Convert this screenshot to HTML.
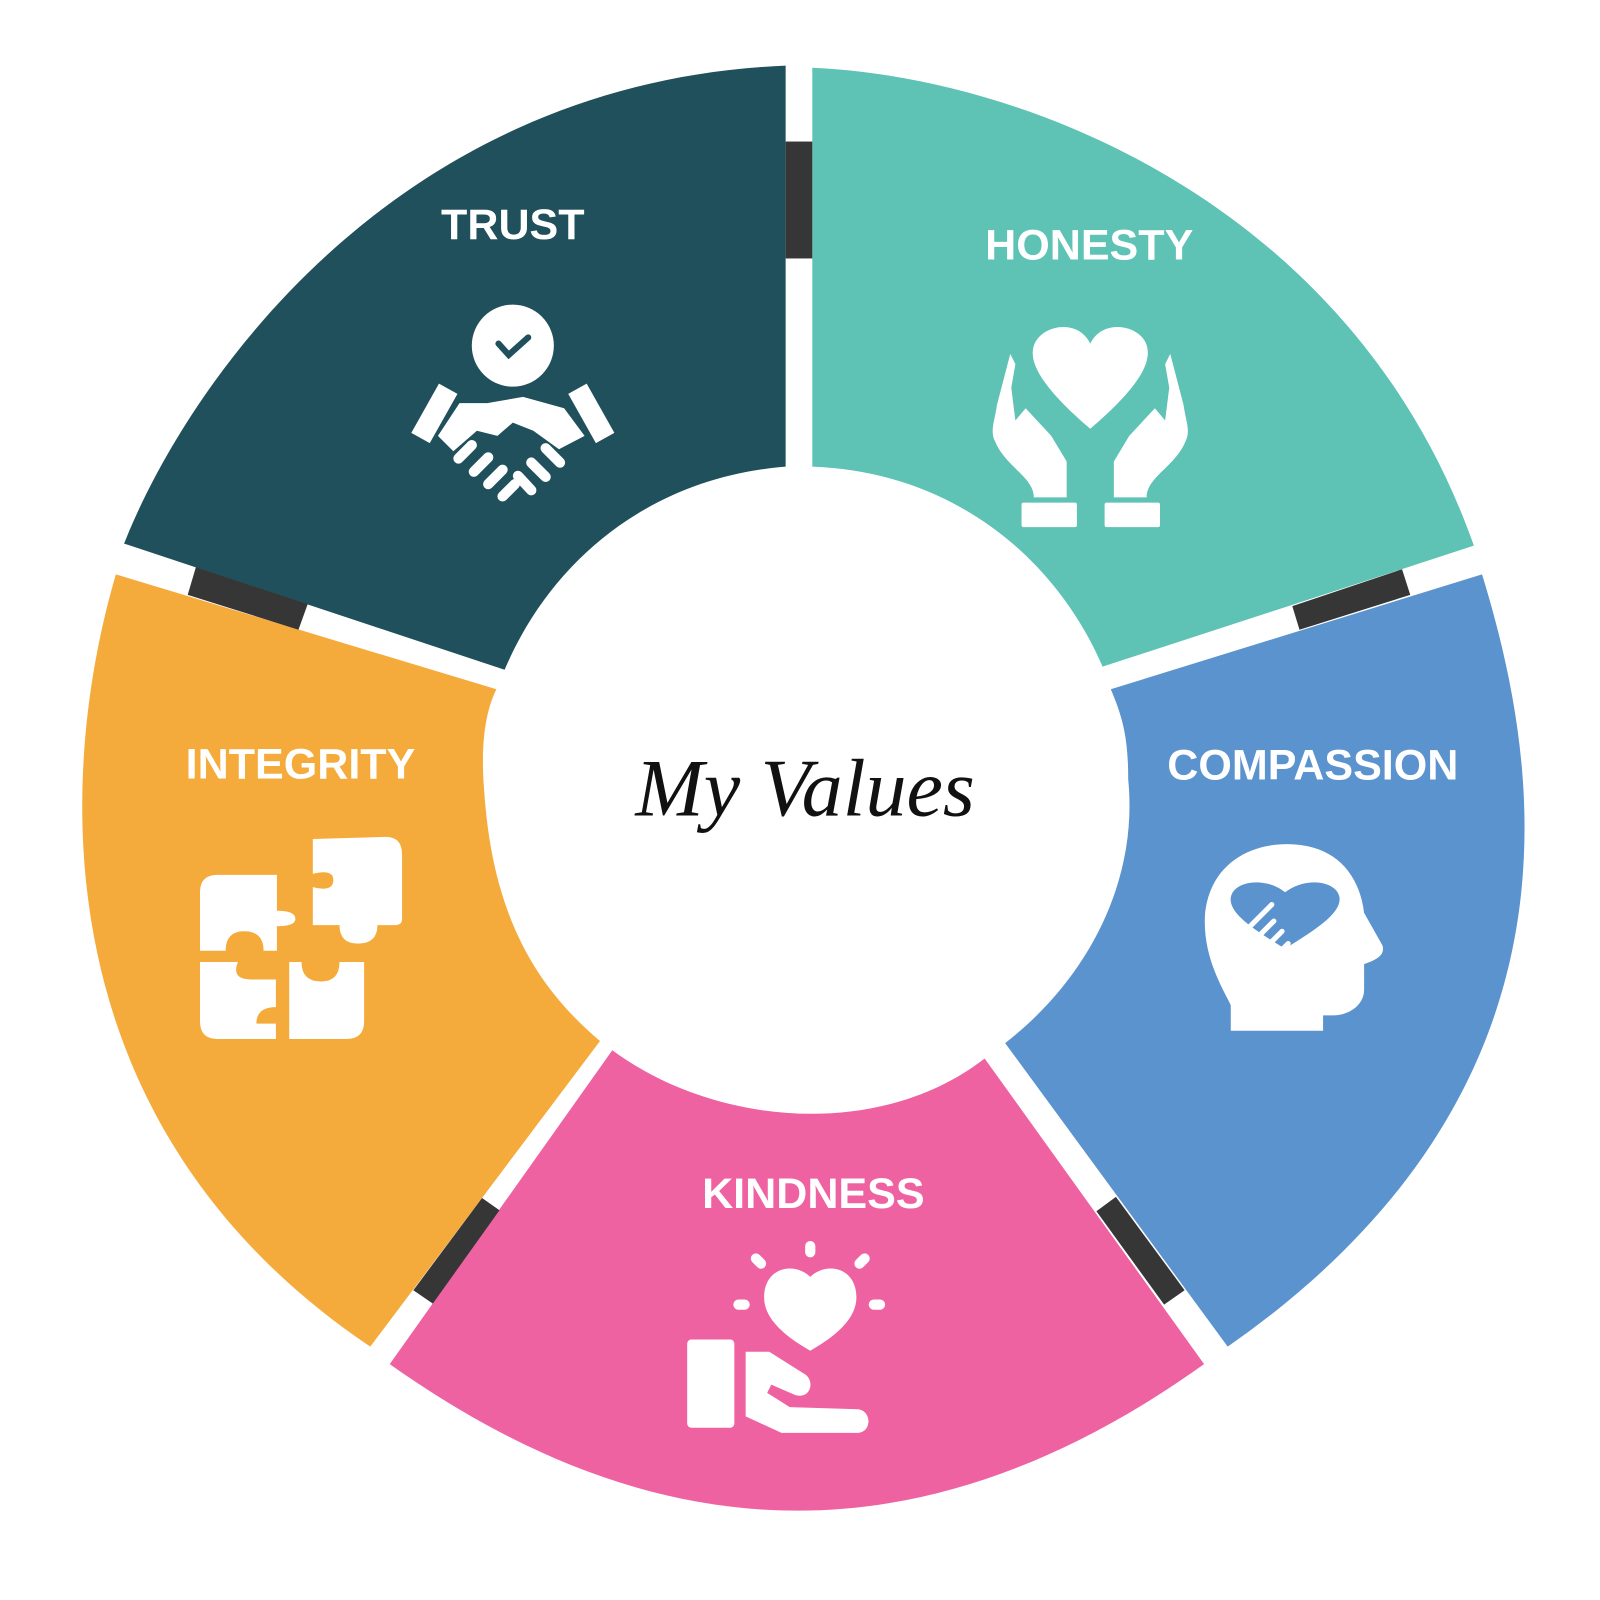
<!DOCTYPE html>
<html><head><meta charset="utf-8"><style>html,body{margin:0;padding:0;background:#fff}svg{display:block}</style></head>
<body>
<svg width="1600" height="1600" viewBox="0 0 1560 1560" xmlns="http://www.w3.org/2000/svg">
<rect width="1560" height="1560" fill="#fff"/>
<path d="M121,530 C180,380 380,80 766,64 L766,455 C640,465 540,540 492,653 Z" fill="#1f505c"/>
<path d="M792,66 C1000,75 1320,200 1437,532 L1075,650 C1030,545 930,460 792,455 Z" fill="#5ec2b5"/>
<path d="M1445,560 C1500,740 1560,1060 1197,1313 L980,1017 C1060,955 1110,860 1100,760 C1100,720 1095,700 1083,672 Z" fill="#5b93ce"/>
<path d="M1174,1330 C880,1540 620,1500 380,1330 L597,1024 C700,1100 860,1110 960,1032 Z" fill="#ee62a1"/>
<path d="M113,560 C60,740 30,1090 361,1313 L585,1015 C520,960 480,890 472,770 C468,720 475,690 484,672 Z" fill="#f4ab3b"/>
<g fill="#363636">
<rect x="766" y="138" width="26" height="114"/>
<polygon points="191,553 300,589 291,614 183,580"/>
<polygon points="1367,555 1375,580 1267,614 1260,591"/>
<polygon points="470,1168 487,1180 422,1271 403,1258"/>
<polygon points="1069,1181 1088,1167 1155,1258 1135,1272"/>
</g>
<g font-family="'Liberation Sans',sans-serif" font-weight="bold" font-size="42" fill="#fff" text-anchor="middle">
<text x="500" y="233">TRUST</text>
<text x="1062" y="253">HONESTY</text>
<text x="293" y="759">INTEGRITY</text>
<text x="1280" y="760">COMPASSION</text>
<text x="793" y="1178">KINDNESS</text>
</g>
<text x="785" y="795" font-family="'Liberation Serif',serif" font-style="italic" font-size="80" text-anchor="middle" fill="#111">My Values</text>
<g fill="#fff">
<circle cx="500" cy="337" r="40"/>
<path d="M486,335 L496,346 L515,329" stroke="#1f505c" stroke-width="6" fill="none" stroke-linecap="round"/>
<polygon points="428,374 446,384 419,432 401,422"/>
<polygon points="572,374 554,384 581,432 599,422"/>
<path d="M427,425 L448,393 L475,393 L510,387 L550,398 L570,425 L545,438 L520,420 L500,412 L485,425 L465,420 L442,440 Z"/>
<g stroke="#fff" stroke-width="10" stroke-linecap="round">
<line x1="447" y1="447" x2="460" y2="434"/><line x1="462" y1="460" x2="476" y2="446"/>
<line x1="476" y1="472" x2="490" y2="458"/><line x1="490" y1="484" x2="502" y2="472"/>
<line x1="532" y1="437" x2="546" y2="451"/><line x1="518" y1="451" x2="532" y2="465"/>
<line x1="505" y1="464" x2="518" y2="478"/>
</g>
</g>
<g fill="#fff">
<path d="M1063,418 C1030,390 1005,362 1007,342 C1009,318 1050,308 1063,335 C1076,308 1118,318 1119,342 C1121,362 1096,390 1063,418 Z"/>
<path d="M985,345 L990,355 L986,378 L990,410 L1000,398 L1025,425 L1040,450 L1040,485 L1008,485 C1008,465 980,455 970,430 C965,420 970,410 972,395 Z"/>
<path d="M1141,345 L1136,355 L1140,378 L1136,410 L1126,398 L1101,425 L1086,450 L1086,485 L1118,485 C1118,465 1146,455 1156,430 C1161,420 1156,410 1154,395 Z"/>
<rect x="996" y="490" width="54" height="24" rx="2"/>
<rect x="1077" y="490" width="54" height="24" rx="2"/>
</g>
<g fill="#fff">
<path d="M195,870 Q195,853 212,853 L270,853 L270,888 Q288,888 288,896 Q288,903 270,903 L270,927 L257,927 Q257,908 238,908 Q220,908 220,927 L195,927 Z"/>
<path d="M305,818 L376,816 Q392,816 392,833 L392,896 Q392,902 385,902 L368,902 Q368,920 349,920 Q331,920 331,902 L305,902 L305,865 Q325,870 325,858 Q325,847 305,852 Z"/>
<path d="M195,938 L232,938 Q225,955 245,955 L269,955 L269,982 Q250,982 250,998 L269,998 L269,1013 L212,1013 Q195,1013 195,996 Z"/>
<path d="M282,938 L294,938 Q294,957 313,957 Q331,957 331,938 L355,938 L355,996 Q355,1013 338,1013 L282,1013 Z"/>
</g>
<g>
<path d="M1200,1005 L1200,980 C1190,960 1172,930 1175,890 C1180,845 1215,823 1255,823 C1300,823 1325,850 1330,890 L1348,922 C1350,930 1345,935 1330,940 L1330,965 C1330,980 1315,990 1300,990 L1290,990 L1290,1005 Z" fill="#fff"/>
<path d="M1253,925 C1220,905 1198,890 1200,875 C1203,858 1235,855 1253,870 C1272,855 1303,858 1306,875 C1308,890 1285,905 1253,925 Z" fill="#5b93ce"/>
<g stroke="#fff" stroke-width="5" stroke-linecap="round">
<line x1="1212" y1="910" x2="1240" y2="882"/><line x1="1222" y1="918" x2="1242" y2="898"/>
<line x1="1230" y1="928" x2="1250" y2="908"/><line x1="1240" y1="936" x2="1256" y2="920"/>
<line x1="1250" y1="942" x2="1262" y2="930"/><line x1="1262" y1="930" x2="1285" y2="908"/>
</g>
</g>
<g fill="#fff">
<path d="M790,1317 C760,1300 745,1283 745,1265 C745,1235 775,1230 790,1245 C805,1230 835,1235 835,1265 C835,1283 820,1300 790,1317 Z"/>
<rect x="785" y="1210" width="10" height="16" rx="5"/>
<rect x="715" y="1267" width="16" height="10" rx="5"/>
<rect x="847" y="1267" width="16" height="10" rx="5"/>
<g stroke="#fff" stroke-width="10" stroke-linecap="round"><line x1="737" y1="1227" x2="742" y2="1232"/><line x1="843" y1="1227" x2="838" y2="1232"/></g>
<rect x="670" y="1306" width="46" height="86" rx="4"/>
<path d="M727,1318 L750,1318 L785,1340 C795,1347 790,1365 775,1360 L752,1350 L748,1358 L770,1372 L837,1374 C850,1376 850,1396 837,1397 L762,1397 L727,1381 Z"/>
</g>
</svg>
</body></html>
